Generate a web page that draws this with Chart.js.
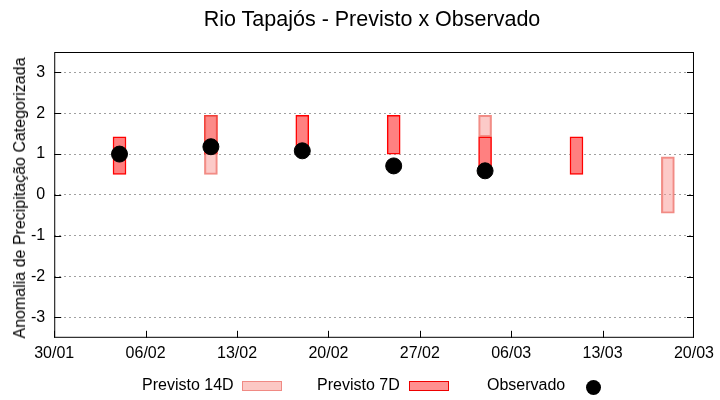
<!DOCTYPE html>
<html>
<head>
<meta charset="utf-8">
<script src="https://cdn.jsdelivr.net/npm/chart.js@4.4.1/dist/chart.umd.min.js"></script>
<style>
    html, body { margin: 0; padding: 0; background: #fff; }
    #wrap { position: relative; width: 720px; height: 400px; }
    .leg { position: absolute; font-family: 'Liberation Sans', Arial, sans-serif; font-size: 16px; color: #000; top: 376px; }
    .sw { position: absolute; top: 381px; width: 38px; height: 8px; }
    .dot { position: absolute; top: 380px; width: 15px; height: 15px; border-radius: 50%; background: #000; }
    #ytitle { position: absolute; left: 20px; top: 198px; transform: translate(-50%, -50%) rotate(-90deg);
              white-space: nowrap; font-family: 'Liberation Sans', Arial, sans-serif; font-size: 16px; color: #000; }
    #titulo { position: absolute; left: 372px; top: 19px; transform: translate(-50%, -50%);
              white-space: nowrap; font-family: 'Liberation Sans', Arial, sans-serif; font-size: 21.5px; color: #000; }
</style>
</head>
<body>
<div id="wrap">
    <canvas id="chart"></canvas>
    <span id="titulo">Rio Tapajós - Previsto x Observado</span>
    <span id="ytitle">Anomalia de Precipitação Categorizada</span>
    <span class="leg" style="left:142px">Previsto 14D</span>
    <span class="sw" style="left:242px; background:#fcc8c4; border:1px solid #f08a84"></span>
    <span class="leg" style="left:317px">Previsto 7D</span>
    <span class="sw" style="left:409px; background:#ff9090; border:1px solid #ee0000"></span>
    <span class="leg" style="left:487px">Observado</span>
    <span class="dot" style="left:586px"></span>
</div>
<script>
// Dias contados a partir de 30/01
const xDays = [5, 12, 19, 26, 33, 40, 47];
const xTickDays = [0, 7, 14, 21, 28, 35, 42, 49];
const xTickLabels = ['30/01', '06/02', '13/02', '20/02', '27/02', '06/03', '13/03', '20/03'];
const yTicks = [-3, -2, -1, 0, 1, 2, 3];

// Faixas previstas (limite inferior / superior)
const prev7Low  = [0.5, 1.0, 1.0, 1.0, 0.5, 0.5, null];
const prev7High = [1.42, 1.95, 1.95, 1.95, 1.42, 1.42, null];
const prev14Low  = [null, 0.5, null, null, 1.42, null, -0.45];
const prev14High = [null, 1.95, null, null, 1.95, null, 0.93];
const observado = [1.0, 1.18, 1.08, 0.71, 0.59, null, null];

function faixas(lows, highs) {
    const out = [];
    xDays.forEach((d, i) => {
        if (lows[i] !== null) out.push({ x: d, y: [lows[i], highs[i]] });
    });
    return out;
}

const pontos = [];
xDays.forEach((d, i) => {
    if (observado[i] !== null) pontos.push({ x: d, y: observado[i] });
});

// moldura e ticks para dentro (estilo gnuplot)
const frameTicks = {
    id: 'frameTicks',
    afterDraw(chart) {
        const { ctx, chartArea: a, scales } = chart;
        ctx.save();
        ctx.strokeStyle = '#000';
        ctx.lineWidth = 1;
        ctx.strokeRect(a.left + 0.5, a.top + 0.5, a.right - a.left - 1, a.bottom - a.top - 1);
        ctx.beginPath();
        yTicks.forEach(v => {
            const y = Math.round(scales.y.getPixelForValue(v)) + 0.5;
            ctx.moveTo(a.left, y); ctx.lineTo(a.left + 7, y);
            ctx.moveTo(a.right, y); ctx.lineTo(a.right - 7, y);
        });
        xTickDays.forEach(v => {
            const x = Math.min(Math.round(scales.x.getPixelForValue(v)) + 0.5, a.right - 0.5);
            ctx.moveTo(x, a.bottom); ctx.lineTo(x, a.bottom - 7);
        });
        ctx.stroke();
        ctx.restore();
    }
};

const fonte = 'Liberation Sans';

new Chart(document.getElementById('chart'), {
    type: 'bar',
    data: {
        datasets: [
            {
                type: 'scatter',
                label: 'Observado',
                data: pontos,
                backgroundColor: '#000',
                borderColor: '#000',
                pointRadius: 8,
                order: 0,
            },
            {
                label: 'Previsto 14D',
                data: faixas(prev14Low, prev14High),
                backgroundColor: 'rgba(250,150,145,0.5)',
                borderColor: 'rgba(235,90,80,0.7)',
                borderWidth: 1.5,
                borderSkipped: false,
                barThickness: 13,
                grouped: false,
                order: 1,
            },
            {
                label: 'Previsto 7D',
                data: faixas(prev7Low, prev7High),
                backgroundColor: '#ff8080',
                borderColor: '#ff0000',
                borderWidth: 1.5,
                borderSkipped: false,
                barThickness: 13,
                grouped: false,
                order: 2,
            },
        ],
    },
    options: {
        responsive: true,
        maintainAspectRatio: false,
        animation: false,
        layout: { padding: { left: 22, right: 11, top: 52, bottom: 31 } },
        plugins: {
            legend: { display: false },
            tooltip: { enabled: false },
        },
        scales: {
            x: {
                type: 'linear',
                min: 0,
                max: 49,
                offset: false,
                afterBuildTicks: scale => { scale.ticks = xTickDays.map(v => ({ value: v })); },
                ticks: {
                    color: '#000',
                    font: { family: fonte, size: 16 },
                    maxRotation: 0,
                    autoSkip: false,
                    padding: 6,
                    callback: v => xTickLabels[xTickDays.indexOf(v)],
                },
                grid: { display: false, offset: false, drawTicks: false },
                border: { display: false },
            },
            y: {
                min: -3.5,
                max: 3.5,
                afterBuildTicks: scale => { scale.ticks = yTicks.map(v => ({ value: v })); },
                ticks: {
                    color: '#000',
                    font: { family: fonte, size: 16 },
                    padding: 9,
                },
                grid: { color: '#a0a0a0', lineWidth: 1, drawTicks: false },
                border: { display: false, dash: [2, 3] },
            },
        },
    },
    plugins: [frameTicks],
});
</script>
</body>
</html>
